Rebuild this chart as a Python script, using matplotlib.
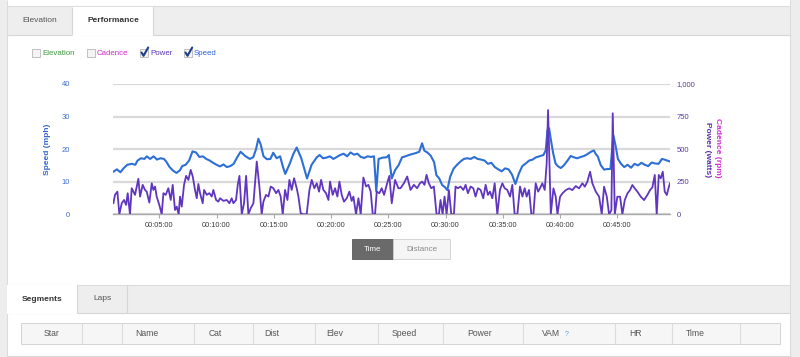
import matplotlib
matplotlib.use("Agg")
import matplotlib.pyplot as plt
from matplotlib.patches import Rectangle

plt.rcParams['font.family'] = ['Liberation Sans', 'DejaVu Sans']

# ---------------- data (time in minutes) ----------------
speed_t = [1.0, 1.3, 1.6, 1.9, 2.2, 2.6, 2.9, 3.1, 3.4, 3.7, 3.9, 4.2, 4.5, 4.8, 5.1, 5.4,
           5.6, 5.9, 6.2, 6.5, 6.8, 7.0, 7.3, 7.6, 7.9, 8.2, 8.5, 8.8, 9.1, 9.4, 9.7, 10.0,
           10.3, 10.6, 10.9, 11.2, 11.5, 11.8, 12.1, 12.5, 12.9, 13.2, 13.45, 13.65, 13.85,
           14.1, 14.4, 14.7, 14.95, 15.25, 15.55, 15.8, 16.0, 16.4, 16.7, 17.0, 17.4, 17.9,
           18.3, 18.75, 19.0, 19.3, 19.6, 19.9, 20.2, 20.5, 20.8, 21.1, 21.4, 21.7, 22.0,
           22.3, 22.6, 22.9, 23.2, 23.5, 23.75, 23.95, 24.15, 24.5, 24.85, 25.05, 25.3, 25.6,
           25.9, 26.2, 26.5, 26.8, 27.1, 27.4, 27.7, 27.95, 28.15, 28.4, 28.7, 29.0, 29.2,
           29.45, 29.7, 29.95, 30.15, 30.4, 30.7, 31.0, 31.3, 31.6, 31.9, 32.2, 32.5, 32.8,
           33.1, 33.4, 33.7, 34.0, 34.3, 34.6, 34.9, 35.2, 35.5, 35.8, 36.1, 36.4, 36.7,
           37.0, 37.3, 37.6, 37.9, 38.2, 38.55, 38.75, 38.9, 39.04, 39.2, 39.4, 39.6, 39.8,
           40.06, 40.35, 40.65, 40.93, 41.2, 41.5, 41.8, 42.1, 42.4, 42.7, 42.95, 43.1, 43.3,
           43.55, 43.85, 44.1, 44.4, 44.65, 44.85, 45.05, 45.3, 45.6, 45.9, 46.2, 46.5, 46.8,
           47.1, 47.4, 47.7, 48.0, 48.3, 48.6, 48.9, 49.2, 49.6]
speed_mph = [13.1, 13.8, 12.9, 14.2, 15.2, 15.5, 15.2, 16.5, 17.2, 17.0, 17.8, 17.0, 17.8, 16.8, 17.2, 17.0,
             16.2, 14.5, 13.4, 12.7, 13.5, 14.8, 15.2, 16.5, 19.3, 19.0, 17.6, 17.8, 17.0, 16.5, 15.8, 15.2,
             14.7, 15.3, 14.5, 14.8, 15.5, 17.5, 19.2, 17.9, 17.0, 17.5, 20.0, 23.2, 21.5,
             17.8, 16.9, 17.0, 18.9, 17.2, 17.8, 14.5, 12.4, 15.6, 18.5, 20.5, 17.2, 11.0,
             15.2, 17.5, 18.2, 17.2, 17.4, 17.8, 17.0, 17.6, 18.2, 18.6, 17.8, 19.0, 18.3,
             18.6, 17.6, 17.3, 17.8, 17.6, 17.8, 7.0, 17.0, 17.4, 17.5, 18.2, 11.0, 13.6,
             15.1, 17.5, 17.8, 18.2, 18.5, 18.8, 19.2, 21.8, 19.5, 19.0, 18.0, 16.0, 12.0,
             11.0, 9.0, 8.3, 7.4, 11.5, 14.0, 15.2, 16.2, 17.0, 17.2, 17.0, 17.6, 17.0,
             16.8, 16.5, 15.5, 15.8, 14.5, 13.8, 13.2, 14.1, 13.8, 12.2, 9.3, 12.5, 14.8,
             15.6, 16.5, 16.8, 17.5, 17.8, 18.2, 19.7, 25.9, 26.4, 22.8, 18.7, 15.6, 14.8,
             14.2, 15.1, 16.5, 17.9, 17.5, 17.2, 17.6, 17.9, 18.5, 19.2, 19.6, 18.6, 17.7,
             15.1, 13.7, 13.9, 13.9, 24.3, 21.0, 17.0, 15.6, 14.5, 15.2, 14.3, 15.5, 15.0,
             15.8, 15.2, 14.8, 15.9, 15.6, 15.5, 17.0, 16.7, 16.2]

power_t = [0.99, 1.13, 1.34, 1.51, 1.72, 1.92, 2.1, 2.24, 2.44, 2.59, 2.88, 3.17, 3.32, 3.55, 3.75,
           3.9, 4.13, 4.34, 4.48, 4.63, 4.77, 5.0, 5.21, 5.36, 5.56, 5.79, 6.0, 6.17, 6.37, 6.52,
           6.69, 6.81, 6.96, 7.16, 7.34, 7.54, 7.74, 7.92, 8.12, 8.27, 8.41, 8.56, 8.79, 8.91,
           9.14, 9.37, 9.58, 9.72, 9.96, 10.16, 10.3, 10.6, 10.89, 11.12, 11.32, 11.47, 11.7,
           11.85, 12.0, 12.2, 12.4, 12.58, 12.78, 12.98, 13.22, 13.51, 13.74, 13.94, 14.09,
           14.32, 14.53, 14.73, 14.96, 15.2, 15.4, 15.6, 15.78, 15.98, 16.19, 16.36, 16.56,
           16.77, 17.0, 17.15, 17.35, 17.58, 17.87, 18.11, 18.31, 18.54, 18.75, 18.95, 19.13,
           19.33, 19.56, 19.77, 19.91, 20.14, 20.35, 20.55, 20.73, 20.93, 21.13, 21.37, 21.6,
           21.8, 21.95, 22.18, 22.39, 22.59, 22.82, 23.06, 23.26, 23.46, 23.64, 23.84, 23.99,
           24.22, 24.42, 24.63, 24.86, 25.09, 25.3, 25.59, 25.88, 26.06, 26.36, 26.65, 26.94,
           27.23, 27.52, 27.76, 27.96, 28.16, 28.34, 28.54, 28.75, 28.98, 29.21, 29.42, 29.56,
           29.74, 29.91, 30.09, 30.29, 30.5, 30.73, 30.87, 31.08, 31.31, 31.55, 31.75, 31.95,
           32.19, 32.42, 32.62, 32.83, 33.06, 33.29, 33.5, 33.7, 33.88, 34.08, 34.29, 34.52,
           34.75, 34.96, 35.16, 35.39, 35.63, 35.83, 36.03, 36.27, 36.5, 36.71, 36.91, 37.08,
           37.29, 37.49, 37.67, 37.87, 38.08, 38.25, 38.45, 38.66, 38.83, 38.95, 39.19, 39.42,
           39.62, 39.77, 40.0, 40.2, 40.5, 40.79, 41.07, 41.37, 41.66, 41.95, 42.16, 42.38,
           42.62, 42.82, 43.12, 43.41, 43.64, 43.84, 44.08, 44.28, 44.48, 44.6, 44.78, 45.0,
           45.24, 45.44, 45.65, 45.88, 46.11, 46.31, 46.52, 46.75, 47.05, 47.34, 47.62, 47.86,
           48.06, 48.27, 48.44, 48.62, 48.79, 48.97, 49.14, 49.32, 49.49, 49.6]
power_w = [85, 149, 174, 0, 85, 110, 72, 162, 0, 200, 149, 272, 136, 226, 187,
           174, 90, 238, 187, 213, 136, 72, 0, 162, 149, 200, 110, 226, 33, 59,
           0, 136, 59, 226, 295, 264, 341, 290, 187, 123, 233, 162, 85, 187,
           149, 162, 136, 187, 110, 97, 123, 103, 110, 85, 123, 85, 110,
           226, 295, 0, 85, 295, 0, 46, 85, 405, 213, 0, 97,
           149, 136, 213, 200, 162, 187, 136, 0, 187, 110, 264, 187,
           277, 200, 136, 8, 0, 0, 187, 264, 200, 238, 174, 264,
           187, 162, 110, 251, 149, 200, 136, 251, 149, 97, 123, 174,
           103, 136, 0, 123, 0, 282, 213, 226, 174, 0, 0, 174,
           162, 200, 149, 226, 295, 85, 264, 200, 200, 238, 290, 187,
           226, 200, 238, 251, 226, 303, 238, 200, 213, 0, 0, 110,
           0, 136, 0, 187, 0, 0, 213, 200, 213, 187, 226, 162,
           213, 200, 136, 200, 187, 123, 226, 149, 174, 123, 238, 0,
           187, 238, 200, 187, 136, 226, 0, 0, 213, 136, 200, 136,
           187, 0, 0, 238, 174, 200, 238, 187, 392, 800, 0, 199,
           135, 0, 135, 160, 186, 199, 186, 217, 199, 238, 212, 250,
           327, 238, 174, 135, 0, 212, 135, 0, 31, 775, 0, 135,
           135, 0, 109, 160, 186, 225, 199, 174, 135, 109, 148, 186,
           207, 302, 0, 302, 276, 327, 174, 148, 207, 238]

x_ticks = [5, 10, 15, 20, 25, 30, 35, 40, 45]
x_tick_labels = ["00:05:00", "00:10:00", "00:15:00", "00:20:00", "00:25:00",
                 "00:30:00", "00:35:00", "00:40:00", "00:45:00"]
speed_ticks = [0, 10, 20, 30, 40]
power_ticks = [0, 250, 500, 750, 1000]
power_tick_labels = ["0", "250", "500", "750", "1,000"]
legend_labels = ["Elevation", "Cadence", "Power", "Speed"]
legend_checked = [False, False, True, True]
tab_labels = ["Elevation", "Performance"]
button_labels = ["Time", "Distance"]
bottom_tabs = ["Segments", "Laps"]
table_cols = ["Star", "Name", "Cat", "Dist", "Elev", "Speed", "Power", "VAM", "HR", "Time"]

# ---------------- page ----------------
W, H = 800, 357
fig = plt.figure(figsize=(8, 3.57), dpi=100, facecolor="white")
bg = fig.add_axes([0, 0, 1, 1])
bg.set_xlim(0, W)
bg.set_ylim(H, 0)
bg.axis("off")

def rect(x, y, w, h, fc, ec="none", lw=0.8, z=1):
    bg.add_patch(Rectangle((x, y), w, h, facecolor=fc, edgecolor=ec, linewidth=lw, zorder=z))

def hline(y, x0, x1, c, lw=0.8, z=2):
    bg.plot([x0, x1], [y, y], color=c, lw=lw, zorder=z, solid_capstyle="butt")

def vline(x, y0, y1, c, lw=0.8, z=2):
    bg.plot([x, x], [y0, y1], color=c, lw=lw, zorder=z, solid_capstyle="butt")

# side strips
rect(0, 0, 7, H, "#ededed")
rect(790, 0, 10, H, "#ededed")
vline(7, 0, H, "#dcdcdc")
vline(790, 0, H, "#dcdcdc")
hline(6, 7, 790, "#dddddd")

# top tab bar
rect(7, 6.5, 783, 28.5, "#eeeeee")
hline(35, 7, 790, "#d6d6d6")
rect(72, 6.5, 81, 29, "white", z=3)
vline(72, 6.5, 35, "#d6d6d6", z=4)
vline(153, 6.5, 35, "#d6d6d6", z=4)
bg.text(40, 20, tab_labels[0], fontsize=6, color="#555555", ha="center", va="center")
bg.text(113, 20.5, tab_labels[1], fontsize=6, color="#333333", ha="center", va="center",
        fontweight="bold", zorder=5)

# legend checkboxes
legend_x = [32, 87, 140, 184]
legend_colors = ["#3f9a3f", "#d52bd5", "#5a36b4", "#2c66d4"]
for lx, lab, chk, col in zip(legend_x, legend_labels, legend_checked, legend_colors):
    rect(lx, 49.3, 7.5, 7.5, "#f4f4f4", ec="#b8b8b8", lw=0.6, z=3)
    if chk:
        bg.plot([lx + 1.5, lx + 3.5, lx + 8.2], [52.5, 55.8, 47.5], color="#203e8c",
                lw=1.5, zorder=4, solid_capstyle="round")
    bg.text(lx + 10, 53.3, lab, fontsize=5.7, color=col, ha="left", va="center")

# buttons
rect(352, 239, 41, 20, "#6a6a6a", ec="#5a5a5a", lw=0.6, z=3)
rect(393, 239, 57, 20, "#f5f5f5", ec="#cfcfcf", lw=0.6, z=3)
bg.text(372.5, 249.5, button_labels[0], fontsize=5.8, color="white", ha="center", va="center", zorder=4)
bg.text(421.5, 249.5, button_labels[1], fontsize=5.8, color="#8a8a8a", ha="center", va="center", zorder=4)

# bottom panel
hline(284.5, 7, 790, "#dddddd")
rect(7, 285, 783, 28, "#eeeeee")
hline(313, 7, 790, "#d6d6d6")
rect(7, 285, 70, 28.5, "white", z=3)
vline(77, 285, 313, "#d6d6d6", z=4)
vline(127, 285, 313, "#d6d6d6", z=4)
bg.text(42, 299.5, bottom_tabs[0], fontsize=6, color="#333333", ha="center", va="center",
        fontweight="bold", zorder=5)
bg.text(102, 299, bottom_tabs[1], fontsize=6, color="#555555", ha="center", va="center")
hline(355.5, 7, 790, "#d8d8d8")

# table header
rect(20.5, 323, 759.5, 21, "#f6f6f6", ec="#d4d4d4", lw=0.7, z=3)
col_edges = [82.3, 121.7, 194.3, 253.3, 315, 378, 443, 523, 615, 672, 740]
for ex in col_edges:
    vline(ex, 323, 344, "#dcdcdc", z=4)
col_centers = [52, 147, 215, 272, 335, 404, 480, 551, 635, 695]
for cx, lab in zip(col_centers, table_cols):
    bg.text(cx, 333.5, lab, fontsize=6.2, color="#555555", ha="center", va="center", zorder=5)
bg.text(566.5, 334, "?", fontsize=5, color="#5b9bd5", ha="center", va="center", zorder=5)

# ---------------- chart ----------------
ax_left, ax_right, ax_top, ax_bot = 113, 670, 84, 214.3
ax = fig.add_axes([ax_left / W, (H - ax_bot) / H, (ax_right - ax_left) / W, (ax_bot - ax_top) / H])
ax.set_facecolor("none")
ax.set_xlim(0.956, 49.6)
ax.set_ylim(0, 40)
for s in ["top", "left", "right"]:
    ax.spines[s].set_visible(False)
ax.spines["bottom"].set_color("#a9a9a9")
ax.spines["bottom"].set_linewidth(1.0)
ax.set_yticks(speed_ticks)
ax.set_yticklabels([str(v) for v in speed_ticks])
ax.yaxis.grid(True, color="#d9d9d9", lw=1.6)
ax.set_axisbelow(True)
ax.tick_params(axis="y", length=0, pad=31, labelsize=5.5, labelcolor="#3f6fd0")
ax.set_xticks(x_ticks)
ax.set_xticklabels(x_tick_labels)
ax.tick_params(axis="x", direction="out", length=3, width=0.8, color="#a9a9a9",
               pad=2.2, labelsize=5.3, labelcolor="#3a3a3a")
ax.set_ylabel("Speed (mph)", fontsize=6, fontweight="bold", color="#3566cc")
ax.yaxis.set_label_coords(-0.112, 0.5)

ax.plot(speed_t, speed_mph, color="#2e6fd6", lw=1.5, zorder=3)

ax2 = ax.twinx()
ax2.set_ylim(0, 1000)
for s in ["top", "left", "right", "bottom"]:
    ax2.spines[s].set_visible(False)
ax2.set_yticks(power_ticks)
ax2.set_yticklabels(power_tick_labels)
ax2.tick_params(axis="y", length=0, pad=5, labelsize=5.5, labelcolor="#5a3aa8")
ax2.plot(power_t, power_w, color="#6036c0", lw=1.3, zorder=4)

ax2.text(1.0677, 0.50, "Power (watts)", transform=ax2.transAxes, rotation=270,
         fontsize=6, fontweight="bold", color="#5a2fb0", ha="center", va="center")
ax2.text(1.0844, 0.513, "Cadence (rpm)", transform=ax2.transAxes, rotation=270,
         fontsize=6, fontweight="bold", color="#d42ad4", ha="center", va="center")

fig.savefig("out.png", dpi=100, facecolor="white")
